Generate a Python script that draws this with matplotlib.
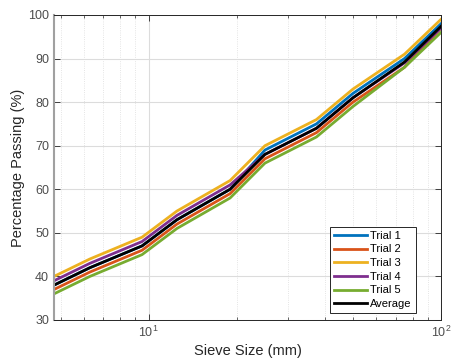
import math
import matplotlib
matplotlib.use("Agg")
import matplotlib.pyplot as plt
from matplotlib.ticker import FixedLocator, FuncFormatter, LogLocator, NullFormatter

plt.rcParams['font.family'] = ['Liberation Sans', 'DejaVu Sans']

sieve = [4.75, 6.3, 9.5, 12.5, 19, 25, 37.5, 50, 75, 100]
trial1 = [38, 42, 47, 53, 60, 69, 75, 82, 90, 98]
trial2 = [37, 41, 46, 52, 59, 67, 73, 80, 88, 97]
trial3 = [40, 44, 49, 55, 62, 70, 76, 83, 91, 99]
trial4 = [39, 43, 48, 54, 61, 68, 74, 81, 89, 97]
trial5 = [36, 40, 45, 51, 58, 66, 72, 79, 88, 96]
average = [38, 42, 47, 53, 60, 68, 74, 81, 89.2, 97.4]

series = [("Trial 1", trial1, "#0072BD"),
          ("Trial 2", trial2, "#D95319"),
          ("Trial 3", trial3, "#EDB120"),
          ("Trial 4", trial4, "#7E2F8E"),
          ("Trial 5", trial5, "#77AC30"),
          ("Average", average, "#000000")]

fig = plt.figure(figsize=(4.52, 3.63), dpi=100)
ax = fig.add_axes([0.1195, 0.1185, 0.8562, 0.8402])
for name, vals, col in series:
    ax.plot(sieve, vals, color=col, lw=2, label=name)

ax.set_xscale('log')
ax.set_xlim(4.75, 100)
ax.set_ylim(30, 100)
ax.set_yticks(range(30, 101, 10))
ax.xaxis.set_major_locator(FixedLocator([10, 100]))
ax.xaxis.set_major_formatter(FuncFormatter(lambda v, p: r'$\mathregular{10^{%d}}$' % round(math.log10(v))))
ax.xaxis.set_minor_locator(LogLocator(base=10, subs=range(2, 10)))
ax.xaxis.set_minor_formatter(NullFormatter())

ax.grid(True, which='major', color='#dcdcdc', lw=0.8, ls='-')
ax.grid(True, which='minor', axis='x', color='#dcdcdc', lw=0.6, ls=':')
ax.set_axisbelow(True)

ax.tick_params(which='both', direction='in', top=True, right=True, colors='#262626',
               labelcolor='#4d4d4d', labelsize=9)
ax.tick_params(which='major', length=4, width=0.6)
ax.tick_params(which='minor', length=2.5, width=0.5)
for s in ax.spines.values():
    s.set_color('#262626')
    s.set_linewidth(0.7)
ax.spines['left'].set_color('#a0a0a0')
ax.spines['left'].set_linewidth(1.5)

ax.set_xlabel('Sieve Size (mm)', fontsize=10.5, color='#262626', labelpad=3)
ax.set_ylabel('Percentage Passing (%)', fontsize=10.5, color='#262626', labelpad=2)

leg = ax.legend(loc='lower right', bbox_to_anchor=(0.935, 0.023), fontsize=8,
                frameon=True, fancybox=False, edgecolor='#262626', framealpha=1,
                handlelength=3.0, handletextpad=0.3, labelspacing=0.33,
                borderpad=0.35, borderaxespad=0)
leg.get_frame().set_linewidth(0.7)

fig.savefig('out.png', dpi=100)
